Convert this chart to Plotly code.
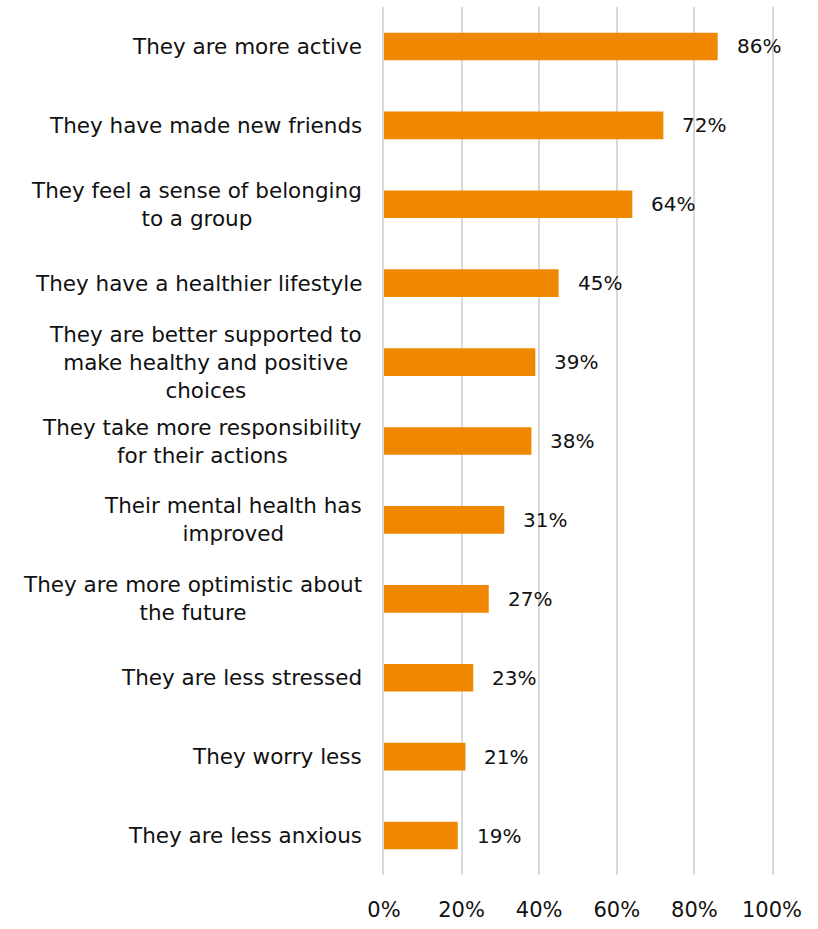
import plotly.graph_objects as go

categories = [
    "They are more active",
    "They have made new friends",
    "They feel a sense of belonging<br>to a group",
    "They have a healthier lifestyle",
    "They are better supported to<br>make healthy and positive<br>choices",
    "They take more responsibility<br>for their actions",
    "Their mental health has<br>improved",
    "They are more optimistic about<br>the future",
    "They are less stressed",
    "They worry less",
    "They are less anxious",
]
values = [86, 72, 64, 45, 39, 38, 31, 27, 23, 21, 19]
tick_vals = [0, 20, 40, 60, 80, 100]
tick_text = ["0%", "20%", "40%", "60%", "80%", "100%"]

FONT = "DejaVu Sans"
ORANGE = "#EF8800"
GRID = "#D9D9D9"

fig = go.Figure(
    go.Bar(
        x=values,
        y=categories,
        orientation="h",
        marker=dict(color=ORANGE, line=dict(width=0)),
        width=0.35,
        hoverinfo="skip",
    )
)

annotations = []
for cat, v in zip(categories, values):
    # category label with centred lines, placed left of the axis
    annotations.append(dict(
        x=0, y=cat, xref="paper", yref="y", xanchor="right", yanchor="middle",
        xshift=-20, text=cat, showarrow=False, align="center",
        font=dict(family=FONT, size=21.5, color="#111111"),
    ))
    # value label just beyond the bar end
    annotations.append(dict(
        x=v, y=cat, xref="x", yref="y", xanchor="left", yanchor="middle",
        xshift=17, text=f"{v}%", showarrow=False,
        font=dict(family=FONT, size=20, color="#111111"),
    ))

fig.update_layout(
    width=818, height=929,
    margin=dict(l=384, r=46, t=7, b=41),
    paper_bgcolor="white", plot_bgcolor="white",
    showlegend=False,
    annotations=annotations,
    xaxis=dict(
        range=[0, 100], tickvals=tick_vals, ticktext=tick_text,
        showgrid=True, gridcolor=GRID, gridwidth=2,
        zeroline=False, showline=False, ticks="", ticklabelstandoff=20,
        tickfont=dict(family=FONT, size=21, color="#111111"),
    ),
    yaxis=dict(
        autorange="reversed", showticklabels=False, showgrid=False,
        zeroline=False, ticks="",
        # vertical lines at 0% and 100% complete the gridline set
        showline=True, mirror=True, linecolor=GRID, linewidth=2,
    ),
)

fig.write_html("out.html")
